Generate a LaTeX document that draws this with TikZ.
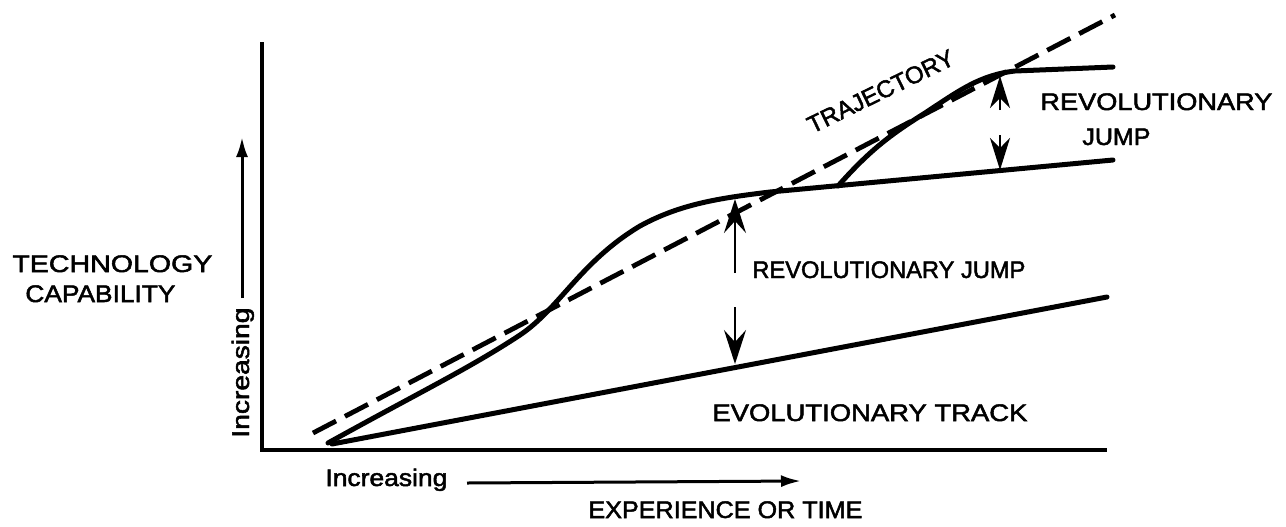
\documentclass[tikz,border=0pt]{standalone}
\usepackage{fontspec}
\setmainfont{Liberation Sans}[FakeBold=2]
\usetikzlibrary{arrows.meta}
\newcommand{\fw}[2]{\resizebox{#1}{\height}{#2}}
\begin{document}
\begin{tikzpicture}[x=0.5pt,y=-0.5pt,
  lbl/.style={inner sep=0pt,font=\fontsize{12}{14}\selectfont},
  axisline/.style={line width=2pt,line join=miter},
  curve/.style={line width=2.5pt,line join=round,line cap=round},
  traj/.style={line width=2.4pt,dash pattern=on 13pt off 5pt},
  jump/.style={line width=1pt,-{Stealth[length=17pt,width=11pt,inset=6pt]}},
  topjump/.style={line width=1pt,-{Stealth[length=16pt,width=10pt,inset=5pt]}},
  ind/.style={line width=1.5pt,-{Latex[length=10pt,width=6pt]}}]
\useasboundingbox (0,0) rectangle (1286,526);
% named points
\coordinate (ytop) at (262,42);
\coordinate (orig) at (262,450);
\coordinate (xend) at (1107,450);
\coordinate (evo0) at (332,444);
\coordinate (evo1) at (1107,297);
\coordinate (tr0) at (313,433);
\coordinate (tr1) at (1115,15);
\coordinate (s1a) at (328,443);
\coordinate (s1b) at (520,335);
\coordinate (s1c) at (640,226);
\coordinate (s1d) at (770,192);
\coordinate (l1end) at (1113,160);
\coordinate (s2a) at (838,186);
\coordinate (s2b) at (925,113);
\coordinate (s2c) at (1015,71);
\coordinate (l2end) at (1113,67);
\coordinate (mupS) at (735,273);
\coordinate (mupT) at (735,199);
\coordinate (mdnS) at (735,307);
\coordinate (mdnT) at (735,364);
\coordinate (tupS) at (1000,110);
\coordinate (tupT) at (1000,76);
\coordinate (tdnS) at (1000,135);
\coordinate (tdnT) at (1000,170);
\coordinate (hxS) at (467,483);
\coordinate (hxT) at (801,481);
\coordinate (vyS) at (242,298);
\coordinate (vyT) at (242,137);
% axes
\draw[axisline] (ytop) -- (orig) -- (xend);
% evolutionary track
\draw[curve] (evo0) -- (evo1);
% trajectory
\draw[traj] (tr0) -- (tr1);
% first S-curve and its plateau
\draw[curve] (s1a) .. controls (420,392) and (470,368) .. (s1b)
  .. controls (560,308) and (580,262) .. (s1c)
  .. controls (680,204) and (720,198) .. (s1d) -- (l1end);
% second S-curve and its plateau
\draw[curve] (s2a) .. controls (870,150) and (890,135) .. (s2b)
  .. controls (960,90) and (980,75) .. (s2c) -- (l2end);
% jump arrows
\draw[jump] (mupS) -- (mupT);
\draw[jump] (mdnS) -- (mdnT);
\draw[topjump] (tupS) -- (tupT);
\draw[topjump] (tdnS) -- (tdnT);
% axis indicator arrows
\draw[ind] (hxS) -- (hxT);
\draw[ind] (vyS) -- (vyT);
% labels
\node[lbl,anchor=base west] (tech) at (12,272) {\fw{100pt}{TECHNOLOGY}};
\node[lbl,anchor=base west] (capa) at (25,302) {\fw{75pt}{CAPABILITY}};
\node[lbl,anchor=base west,rotate=90] (incv) at (249,438) {\fw{65pt}{Increasing}};
\node[lbl,anchor=base west] (inch) at (325,486) {\fw{61pt}{Increasing}};
\node[lbl,anchor=base west] (expt) at (588,518) {\fw{137pt}{EXPERIENCE OR TIME}};
\node[lbl,anchor=base west] (evot) at (712,421) {\fw{157.5pt}{EVOLUTIONARY TRACK}};
\node[lbl,anchor=base west] (rjm) at (752,278) {\fw{136.5pt}{REVOLUTIONARY JUMP}};
\node[lbl,anchor=base west] (rjt1) at (1040,110) {\fw{116pt}{REVOLUTIONARY}};
\node[lbl,anchor=base west] (rjt2) at (1082,145) {\fw{34pt}{JUMP}};
\node[lbl,anchor=base west,rotate=26] (trl) at (812,134) {\fw{80pt}{TRAJECTORY}};
\end{tikzpicture}
\end{document}
